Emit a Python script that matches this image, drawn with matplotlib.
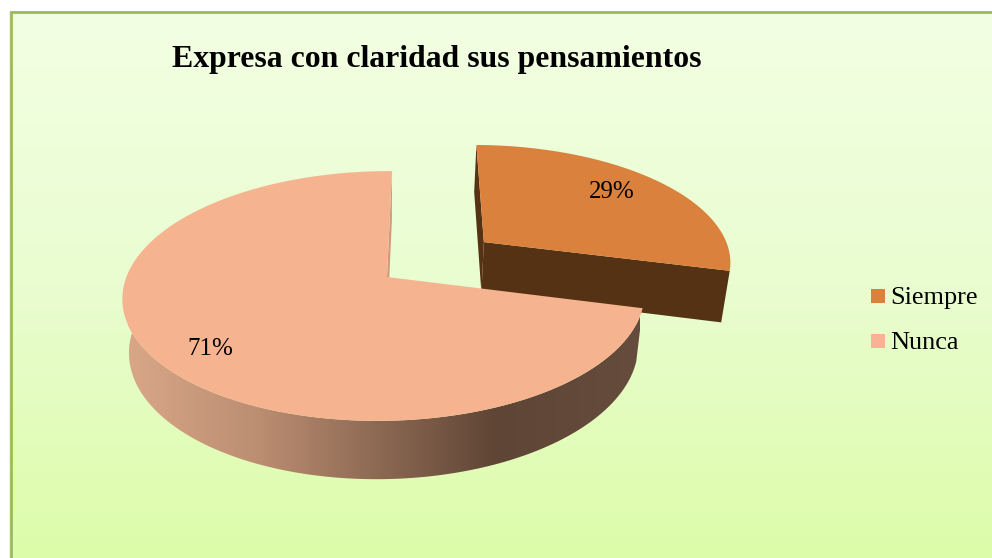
import numpy as np
import matplotlib
matplotlib.use("Agg")
import matplotlib.pyplot as plt
from matplotlib.colors import LinearSegmentedColormap
from matplotlib.patches import Polygon, Rectangle

TITLE = "Expresa con claridad sus pensamientos"
categories = ["Siempre", "Nunca"]
values = [29, 71]
top_colors = ["#D9813D", "#F5B48F"]
legend_colors = ["#D9813D", "#FBB195"]
wall_dark = "#553213"
radial_nunca = "#CF9A7D"

plt.rcParams["font.family"] = ["Liberation Serif", "DejaVu Serif"]

W, H = 992, 558
fig = plt.figure(figsize=(W / 100, H / 100), dpi=100, facecolor="white")
ax = fig.add_axes([0, 0, 1, 1])
ax.set_xlim(0, W)
ax.set_ylim(H, 0)
ax.axis("off")

# panel background
bg = LinearSegmentedColormap.from_list("bg", ["#F3FFE3", "#E9FDD0", "#DDFCA9"])
ax.imshow(np.linspace(0, 1, 256).reshape(-1, 1), extent=(11, W, H, 12), cmap=bg,
          aspect="auto", zorder=1)
ax.add_patch(Rectangle((8.5, 11), 1.5, H, fc="#EFEFEF", ec="none", zorder=0.5))
ax.plot([11, 11, W], [H, 12, 12], color="#9BBB59", lw=2, zorder=2, solid_joinstyle="miter")
ax.set_xlim(0, W)
ax.set_ylim(H, 0)

# perspective projection of the pie plane
X0, Y0, A, B, P, Q, R, DEPTH, SHRINK = 387.0, 277.0, 258.0, 122.0, 0.152, 0.010, 5.8, 52.5, 0.025
EXPLODE = 0.49


def project(u, v, z=0.0):
    u, v = np.asarray(u, float), np.asarray(v, float)
    w = 1 + P * v + Q * u
    x = (A * u + R * v) / w
    y = -B * v / w
    k = 1 - SHRINK * z
    return X0 + x * k, Y0 + y * k + DEPTH * z / w


def outline(t0, t1, eu, ev, z=0.0, n=200):
    t = np.radians(np.linspace(t0, t1, n))
    return project(eu + np.sin(t), ev + np.cos(t), z)


def poly(xs, ys, **kw):
    return ax.add_patch(Polygon(np.column_stack([xs, ys]), closed=True, ec="none", **kw))


fractions = np.array(values, float) / sum(values)
ends = np.cumsum(fractions) * 360
starts = ends - fractions * 360

# Siempre (exploded along its bisector)
t0, t1 = starts[0], ends[0]
mid = np.radians((t0 + t1) / 2)
eu, ev = EXPLODE * np.sin(mid), EXPLODE * np.cos(mid)
for ang in (t0, t1):
    xa, ya = project([eu, eu + np.sin(np.radians(ang))], [ev, ev + np.cos(np.radians(ang))], 0)
    xb, yb = project([eu, eu + np.sin(np.radians(ang))], [ev, ev + np.cos(np.radians(ang))], 1)
    poly(np.r_[xa, xb[::-1]], np.r_[ya, yb[::-1]], fc=wall_dark, zorder=3)
xt, yt = outline(t0, t1, eu, ev)
xa, ya = project(eu, ev)
poly(np.r_[xa, xt], np.r_[ya, yt], fc=top_colors[0], zorder=4)

# Nunca
t0, t1 = starts[1], ends[1]
xa, ya = project([0, np.sin(np.radians(t1))], [0, np.cos(np.radians(t1))], 0)
xb, yb = project([0, np.sin(np.radians(t1))], [0, np.cos(np.radians(t1))], 1)
poly(np.r_[xa, xb[::-1]], np.r_[ya, yb[::-1]], fc=radial_nunca, zorder=5)

xu, yu = outline(t0, t1, 0, 0, 0)
xl, yl = outline(t0, t1, 0, 0, 1)
wall = poly(np.r_[xu, xl[::-1]], np.r_[yu, yl[::-1]], fc="none", zorder=5)
wall_cmap = LinearSegmentedColormap.from_list(
    "wall", [(0, "#D9A688"), (0.25, "#BC8E72"), (0.72, "#5F4535"), (1, "#664C3C")])
im = ax.imshow(np.linspace(0, 1, 256).reshape(1, -1), extent=(128, 640, 500, 280), cmap=wall_cmap,
               aspect="auto", zorder=6)
im.set_clip_path(wall)
ax.set_xlim(0, W)
ax.set_ylim(H, 0)

xa, ya = project(0, 0)
poly(np.r_[xa, xu], np.r_[ya, yu], fc=top_colors[1], zorder=7)

# texts
ax.text(172, 59.5, TITLE, fontsize=22.85, fontweight="bold", color="black", va="center", ha="left", zorder=10)
ax.text(612, 192, f"{values[0]}%", fontsize=18, color="black", ha="center", va="center", zorder=10)
ax.text(210, 349, f"{values[1]}%", fontsize=18, color="black", ha="center", va="center", zorder=10)

# legend
for name, col, y in zip(categories, legend_colors, (289, 334)):
    ax.add_patch(Rectangle((871, y), 14, 14, fc=col, ec="none", zorder=10))
    ax.text(890.5, y + 9, name, fontsize=18.9, color="black", ha="left", va="center", zorder=10)

fig.savefig("out.png", dpi=100, facecolor="white")
